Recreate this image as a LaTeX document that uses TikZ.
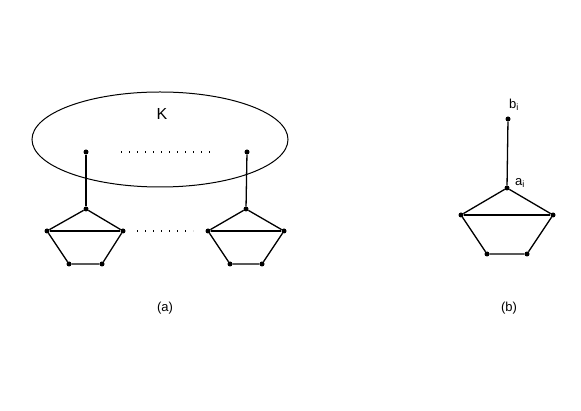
\documentclass[tikz,border=0pt]{standalone}
\usepackage{fontspec}
\setmainfont{Liberation Sans}
\usetikzlibrary{shapes.geometric}
\begin{document}
\begin{tikzpicture}[x=1pt,y=-1pt,
  vtx/.style={circle,fill=black,inner sep=0pt,minimum size=5pt},
  edge/.style={line width=1.3pt},
  lbl/.style={font=\fontsize{13}{15}\selectfont,inner sep=0pt},
  dotrow/.style={line width=1.4pt,dash pattern=on 1.4pt off 6.6pt}]
\useasboundingbox (0,0) rectangle (581,411);
% (a)
\node[draw,ellipse,line width=1pt,minimum width=256pt,minimum height=95pt,inner sep=0pt] (K) at (160,139.5) {};
\node[lbl,font=\fontsize{16}{18}\selectfont] (Klbl) at (162,114) {K};
\node[vtx] (u1) at (86,152) {};
\node[vtx] (u2) at (247,152) {};
\coordinate (d1s) at (121,152);
\coordinate (d1e) at (212,152);
\draw[dotrow] (d1s) -- (d1e);
% left pentagon
\node[vtx] (l1) at (86,209) {};
\node[vtx] (l2) at (47,231) {};
\node[vtx] (l3) at (123,231) {};
\node[vtx] (l4) at (69,264) {};
\node[vtx] (l5) at (102,264) {};
\draw[edge] (u1) -- (l1);
\draw[edge] (l1) -- (l2) -- (l4) -- (l5) -- (l3) -- (l1);
\draw[edge] (l2) -- (l3);
% right pentagon
\node[vtx] (r1) at (246,209) {};
\node[vtx] (r2) at (208,231) {};
\node[vtx] (r3) at (284,231) {};
\node[vtx] (r4) at (230,264) {};
\node[vtx] (r5) at (262,264) {};
\draw[edge] (u2) -- (r1);
\draw[edge] (r1) -- (r2) -- (r4) -- (r5) -- (r3) -- (r1);
\draw[edge] (r2) -- (r3);
\coordinate (d2s) at (137,231);
\coordinate (d2e) at (193,231);
\draw[dotrow] (d2s) -- (d2e);
\node[lbl] (la) at (165,308) {(a)};
% (b)
\node[vtx] (b) at (508,119) {};
\node[vtx] (a) at (507,188) {};
\node[vtx] (p2) at (461,215) {};
\node[vtx] (p3) at (553,215) {};
\node[vtx] (p4) at (487,254) {};
\node[vtx] (p5) at (527,254) {};
\draw[edge] (b) -- (a);
\draw[edge] (a) -- (p2) -- (p4) -- (p5) -- (p3) -- (a);
\draw[edge] (p2) -- (p3);
\node[lbl] (blbl) at (514,105) {b\textsubscript{i}};
\node[lbl] (albl) at (520,183) {a\textsubscript{i}};
\node[lbl] (lb) at (509,308) {(b)};
\end{tikzpicture}
\end{document}
